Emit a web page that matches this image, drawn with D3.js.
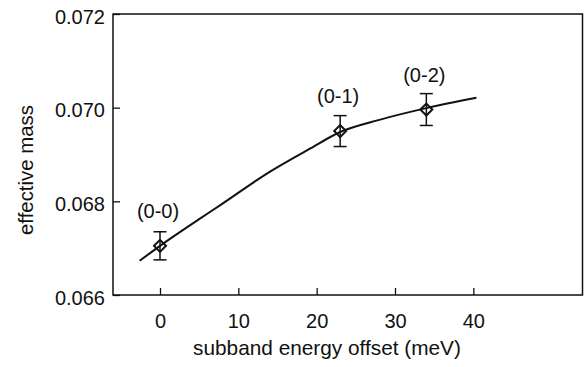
<!DOCTYPE html>
<html>
<head>
<meta charset="utf-8">
<script src="https://cdn.jsdelivr.net/npm/d3@7"></script>
<style>
  body { margin: 0; background: #fff; }
  text { font-family: "Liberation Sans", Arial, sans-serif; fill: #111; }
</style>
</head>
<body>
<script>
// measured subbands
var labels = ["(0-0)", "(0-1)", "(0-2)"];
var offsets = [0, 23, 34];
var masses = [0.06705, 0.0695, 0.06996];
var errors = [0.0003, 0.00033, 0.00034];

// fitted curve
var curveX = [-2.6, 0, 5, 7.7, 14, 19.2, 23, 28, 34, 40.4];
var curveY = [0.06673, 0.06705, 0.06762, 0.06792, 0.06863, 0.06913, 0.06948, 0.06974, 0.06999, 0.07021];

// tick labels
var xTicks = [0, 10, 20, 30, 40];
var yTicks = [0.066, 0.068, 0.070, 0.072];

var w = 584;
var h = 367;
const margin = {top: 14, bottom: 72, right: 1, left: 113};

var svg = d3.select("body")
            .append("svg")
            .attr("width", w)
            .attr("height", h);

var xScale = d3.scaleLinear()
               .domain([-6, 54])
               .range([margin.left, w - margin.right]);

var yScale = d3.scaleLinear()
               .domain([0.066, 0.072])
               .range([h - margin.bottom, margin.top]);

// x axis, ticks pointing inward
var xAxis = d3.axisBottom(xScale)
              .tickValues(xTicks)
              .tickSize(-7)
              .tickPadding(19)
              .tickFormat(d3.format("d"));

var gx = svg.append("g")
            .attr("transform", "translate(0," + (h - margin.bottom) + ")")
            .call(xAxis);

// y axis
var yAxis = d3.axisLeft(yScale)
              .tickValues(yTicks)
              .tickSize(-7)
              .tickPadding(8)
              .tickFormat(d3.format(".3f"));

var gy = svg.append("g")
            .attr("transform", "translate(" + margin.left + ",0)")
            .call(yAxis);

[gx, gy].forEach(function(g) {
  g.select(".domain").remove();
  g.selectAll(".tick line").attr("stroke", "#111").attr("stroke-width", 1.3);
  g.selectAll(".tick text").attr("font-size", "20px").attr("fill", "#111")
   .style("font-family", "'Liberation Sans', Arial, sans-serif");
});
gy.selectAll(".tick text").attr("dy", "0.46em");

// frame
svg.append("rect")
   .attr("x", margin.left)
   .attr("y", margin.top)
   .attr("width", w - margin.left - margin.right - 0.5)
   .attr("height", h - margin.top - margin.bottom)
   .attr("fill", "none")
   .attr("stroke", "#111")
   .attr("stroke-width", 1.5);

// curve
var line = d3.line()
             .x(function(d, i) { return xScale(curveX[i]); })
             .y(function(d) { return yScale(d); })
             .curve(d3.curveMonotoneX);

svg.append("path")
   .datum(curveY)
   .attr("d", line)
   .attr("fill", "none")
   .attr("stroke", "#111")
   .attr("stroke-width", 2);

// error bars and markers
var pts = svg.selectAll(".pt")
             .data(offsets)
             .enter()
             .append("g")
             .attr("class", "pt");

pts.append("line")
   .attr("x1", function(d) { return xScale(d); })
   .attr("x2", function(d) { return xScale(d); })
   .attr("y1", function(d, i) { return yScale(masses[i] + errors[i]); })
   .attr("y2", function(d, i) { return yScale(masses[i] - errors[i]); })
   .attr("stroke", "#111")
   .attr("stroke-width", 1.5);

[1, -1].forEach(function(s) {
  pts.append("line")
     .attr("x1", function(d) { return xScale(d) - 6.5; })
     .attr("x2", function(d) { return xScale(d) + 6.5; })
     .attr("y1", function(d, i) { return yScale(masses[i] + s * errors[i]); })
     .attr("y2", function(d, i) { return yScale(masses[i] + s * errors[i]); })
     .attr("stroke", "#111")
     .attr("stroke-width", 1.5);
});

pts.append("path")
   .attr("d", d3.symbol().type(d3.symbolSquare).size(72))
   .attr("transform", function(d, i) {
     return "translate(" + xScale(d) + "," + yScale(masses[i]) + ") rotate(45)";
   })
   .attr("fill", "none")
   .attr("stroke", "#111")
   .attr("stroke-width", 2);

pts.append("text")
   .attr("x", function(d) { return xScale(d) - 2; })
   .attr("y", function(d, i) { return yScale(masses[i]) - 28; })
   .attr("text-anchor", "middle")
   .attr("font-size", "20px")
   .text(function(d, i) { return labels[i]; });

// axis titles
svg.append("text")
   .attr("x", 327)
   .attr("y", 355)
   .attr("text-anchor", "middle")
   .attr("font-size", "20.8px")
   .text("subband energy offset (meV)");

svg.append("text")
   .attr("transform", "translate(33,170) rotate(-90)")
   .attr("text-anchor", "middle")
   .attr("font-size", "20.4px")
   .text("effective mass");
</script>
</body>
</html>
